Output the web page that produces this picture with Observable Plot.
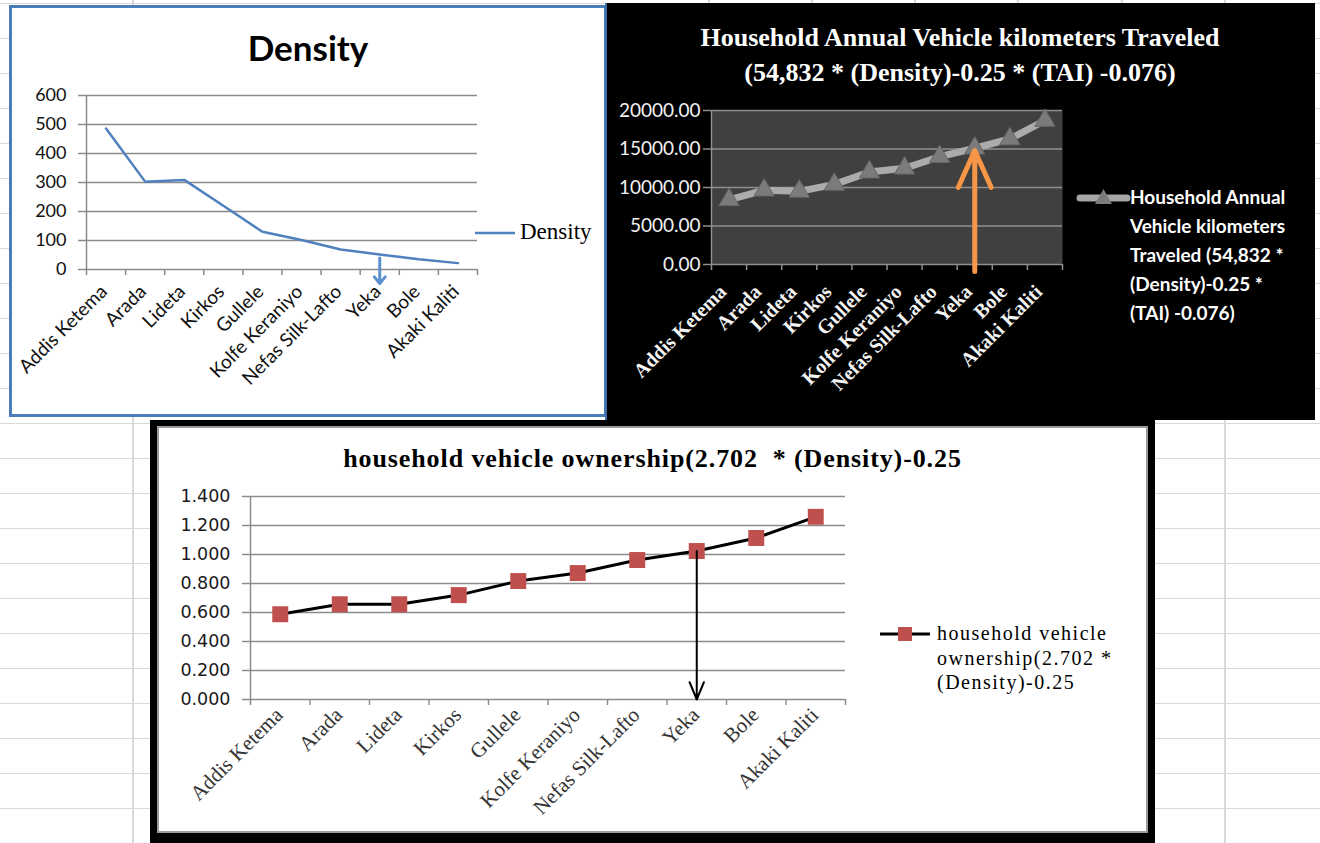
<!DOCTYPE html>
<html>
<head>
<meta charset="utf-8">
<script src="https://cdn.jsdelivr.net/npm/d3@7"></script>
<script src="https://cdn.jsdelivr.net/npm/@observablehq/plot@0.6"></script>
<style>
  html, body { margin: 0; padding: 0; }
  body {
    width: 1320px; height: 843px; overflow: hidden; position: relative;
    background-color: #fff;
    background-image: linear-gradient(to bottom, #d9d9d9 0, #d9d9d9 1.5px, transparent 1.5px);
    background-size: 100% 35px;
    background-position: 0 3px;
  }
  .vline { position: absolute; top: 0; bottom: 0; width: 1.5px; background: #d9d9d9; }
  .abs { position: absolute; }
  .txt { position: absolute; white-space: pre; }
  svg.swatch { position: absolute; overflow: visible; }
</style>
</head>
<body>
<div class="vline" style="left:132px"></div>
<div class="vline" style="left:708px"></div>
<div class="vline" style="left:811px"></div>
<div class="vline" style="left:914px"></div>
<div class="vline" style="left:1017px"></div>
<div class="vline" style="left:1121px"></div>
<div class="vline" style="left:1224px"></div>

<!-- Density panel -->
<div id="p1" class="abs" style="left:9px; top:5px; width:592px; height:406px; border:3px solid #4a7ebb; background:#fff;">
  <div class="txt" style="left:0; width:592px; top:22px; text-align:center; font:700 35px/35px Lato, sans-serif; color:#000;">Density</div>
  <svg class="swatch" style="left:463px; top:225px;" width="40" height="1"><line x1="0" x2="40" y1="0" y2="0" stroke="#4f81bd" stroke-width="2.5"/></svg>
  <div class="txt" style="left:508px; top:211px; font:400 23px/26px 'Liberation Serif', serif; color:#000;">Density</div>
  <div id="c1" class="abs" style="left:0; top:0;"></div>
</div>

<!-- Vehicle kilometers panel -->
<div id="p2" class="abs" style="left:605px; top:3px; width:710px; height:417px; background:#000;">
  <div class="abs" style="left:0; top:0; width:1.5px; height:417px; background:#3d6fb0;"></div>
  <div class="txt" style="left:0; width:710px; top:17px; text-align:center; font:700 26px/35px 'Liberation Serif', serif; color:#fff;">Household Annual Vehicle kilometers Traveled
(54,832 * (Density)-0.25 * (TAI) -0.076)</div>
  <svg class="swatch" style="left:475px; top:195px;" width="47" height="1">
    <line x1="0" x2="47" y1="0" y2="0" stroke="#a5a5a5" stroke-width="7" stroke-linecap="round"/>
    <path d="M23.5,-9 L32,6 L15,6 Z" fill="#7b7b7b"/>
  </svg>
  <div class="txt" style="left:525px; top:179px; font:700 19px/29px Lato, sans-serif; color:#fff;">Household Annual
Vehicle kilometers
Traveled (54,832 *
(Density)-0.25 *
(TAI) -0.076)</div>
  <div id="c2" class="abs" style="left:0; top:0;"></div>
</div>

<!-- Vehicle ownership panel -->
<div class="abs" style="left:150px; top:420px; width:1005px; height:430px; background:#000;"></div>
<div id="p3" class="abs" style="left:157px; top:426px; width:991px; height:407px; background:#fff; box-shadow: inset 0 0 0 2px #9a9a9a;">
  <div class="txt" style="left:0; width:991px; top:18px; text-align:center; font:700 26px/30px 'Liberation Serif', serif; letter-spacing:0.9px; color:#000;">household vehicle ownership(2.702  * (Density)-0.25</div>
  <svg class="swatch" style="left:723px; top:208px;" width="50" height="1">
    <line x1="0" x2="50" y1="0" y2="0" stroke="#000" stroke-width="3"/>
    <rect x="18" y="-7" width="14" height="14" fill="#c0504d"/>
  </svg>
  <div class="txt" style="left:780px; top:195px; font:400 20px/24.5px 'Liberation Serif', serif; letter-spacing:1.5px; color:#000;">household vehicle
ownership(2.702 *
(Density)-0.25</div>
  <div id="c3" class="abs" style="left:0; top:0;"></div>
</div>

<script>
// Sub-cities of Addis Ababa, in the order shown on every chart
const districts = ["Addis Ketema", "Arada", "Lideta", "Kirkos", "Gullele",
  "Kolfe Keraniyo", "Nefas Silk-Lafto", "Yeka", "Bole", "Akaki Kaliti"];

// Series values
const density = [486, 303, 309, 220, 130, 102, 69, 52, 35, 22];
const vehicleKm = [8400, 9650, 9500, 10400, 12000, 12500, 14000, 15100, 16300, 18700];
const ownership = [0.588, 0.657, 0.657, 0.720, 0.817, 0.872, 0.962, 1.024, 1.114, 1.260];

// Axis tick values
const densityTicks = [0, 100, 200, 300, 400, 500, 600];
const vehicleKmTicks = [0, 5000, 10000, 15000, 20000];
const ownershipTicks = [0, 0.2, 0.4, 0.6, 0.8, 1.0, 1.2, 1.4];

// Annotation arrows pointing at Yeka (values in each chart's units)
const densityArrow = {district: "Yeka", from: 40, to: -48};
const vehicleKmArrow = {district: "Yeka", from: -900, to: 14800};
const ownershipArrow = {district: "Yeka", from: 1.024, to: 0};

// Categories sit in unit-wide slots so the category ticks fall between them
const rows = districts.map((name, i) => ({
  name, x: i + 0.5, density: density[i], vehicleKm: vehicleKm[i], ownership: ownership[i]
}));
const slotCenters = rows.map(d => d.x);
const slotEdges = d3.range(districts.length + 1);
const slotOf = name => districts.indexOf(name) + 0.5;
const nameAt = v => districts[Math.floor(v)];

function categoryAxes(opts) {
  return [
    Plot.axisX({ticks: slotEdges, tickSize: 6, tickFormat: () => "", stroke: opts.tickStroke, strokeWidth: 1.5, label: null}),
    Plot.axisX({ticks: slotCenters, tickSize: 0, tickPadding: opts.padding, tickRotate: -45, tickFormat: nameAt,
      dx: opts.dx || 0, letterSpacing: opts.letterSpacing,
      fontSize: opts.fontSize, fontFamily: opts.fontFamily, fontWeight: opts.fontWeight, fill: opts.fill, label: null})
  ];
}

// Density
const chart1 = Plot.plot({
  width: 592, height: 406,
  marginLeft: 74, marginRight: 127, marginTop: 87, marginBottom: 145,
  x: {domain: [0, districts.length], label: null},
  y: {domain: [0, 600], label: null},
  style: {background: "transparent", overflow: "visible"},
  marks: [
    Plot.ruleY(densityTicks, {stroke: "#8a8a8a", strokeWidth: 1.5}),
    Plot.ruleX([0], {stroke: "#8a8a8a", strokeWidth: 1.5}),
    Plot.axisY({ticks: densityTicks, tickSize: 8, tickPadding: 12, tickFormat: "d", stroke: "#8a8a8a", strokeWidth: 1.5,
      fill: "#111", fontSize: 18, fontFamily: "Lato", label: null}),
    ...categoryAxes({tickStroke: "#8a8a8a", padding: 19, dx: -2, fontSize: 19, fontFamily: "Lato", fontWeight: 400, fill: "#111"}),
    Plot.line(rows, {x: "x", y: "density", stroke: "#4f81bd", strokeWidth: 2.5}),
    Plot.arrow([densityArrow], {x1: d => slotOf(d.district), x2: d => slotOf(d.district), y1: "from", y2: "to",
      stroke: "#5b8fd0", strokeWidth: 3, headLength: 11, headAngle: 80})
  ]
});
document.getElementById("c1").append(chart1);

// Household annual vehicle kilometres travelled
const chart2 = Plot.plot({
  width: 710, height: 417,
  marginLeft: 106, marginRight: 253, marginTop: 107, marginBottom: 156,
  x: {domain: [0, districts.length], label: null},
  y: {domain: [0, 20000], label: null},
  style: {background: "transparent", overflow: "visible"},
  marks: [
    Plot.frame({fill: "#404040", stroke: null}),
    Plot.ruleY(vehicleKmTicks, {stroke: "#8f8f8f", strokeWidth: 1.5}),
    Plot.ruleX([0], {stroke: "#8f8f8f", strokeWidth: 1.5}),
    Plot.axisY({ticks: vehicleKmTicks, tickSize: 8, tickPadding: 3, tickFormat: d3.format(".2f"), stroke: "#8f8f8f", strokeWidth: 1.5,
      fill: "#f2f2f2", fontSize: 19, fontFamily: "Lato", label: null}),
    ...categoryAxes({tickStroke: "#8f8f8f", padding: 24, dx: -6, fontSize: 20, fontFamily: "Liberation Serif", fontWeight: 700, fill: "#f4f4f4"}),
    Plot.line(rows, {x: "x", y: "vehicleKm", stroke: "#ababab", strokeWidth: 7, strokeLinecap: "round"}),
    Plot.dot(rows, {x: "x", y: "vehicleKm", symbol: "triangle", r: 7.5, fill: "#7b7b7b", stroke: "#666", strokeWidth: 1}),
    Plot.arrow([vehicleKmArrow], {x1: d => slotOf(d.district), x2: d => slotOf(d.district), y1: "from", y2: "to",
      stroke: "#f79646", strokeWidth: 5, headLength: 33, headAngle: 48})
  ]
});
document.getElementById("c2").append(chart2);

// Household vehicle ownership
const chart3 = Plot.plot({
  width: 991, height: 407,
  marginLeft: 93, marginRight: 303, marginTop: 70, marginBottom: 134,
  x: {domain: [0, districts.length], label: null},
  y: {domain: [0, 1.4], label: null},
  style: {background: "transparent", overflow: "visible"},
  marks: [
    Plot.ruleY(ownershipTicks, {stroke: "#8c8c8c", strokeWidth: 1.5}),
    Plot.ruleX([0], {stroke: "#8c8c8c", strokeWidth: 1.5}),
    Plot.axisY({ticks: ownershipTicks, tickSize: 8, tickPadding: 12, tickFormat: d3.format(".3f"), stroke: "#8c8c8c", strokeWidth: 1.5,
      fill: "#1a1a1a", fontSize: 17.5, fontFamily: "DejaVu Sans", letterSpacing: 2, label: null}),
    ...categoryAxes({tickStroke: "#8c8c8c", padding: 12, dx: -1, fontSize: 21, fontFamily: "Liberation Serif", fontWeight: 400, fill: "#333"}),
    Plot.line(rows, {x: "x", y: "ownership", stroke: "#000", strokeWidth: 3}),
    Plot.dot(rows, {x: "x", y: "ownership", symbol: "square", r: 9, fill: "#c0504d", stroke: null}),
    Plot.arrow([ownershipArrow], {x1: d => slotOf(d.district), x2: d => slotOf(d.district), y1: "from", y2: "to",
      stroke: "#000", strokeWidth: 2, headLength: 14, headAngle: 45})
  ]
});
document.getElementById("c3").append(chart3);
</script>
</body>
</html>
